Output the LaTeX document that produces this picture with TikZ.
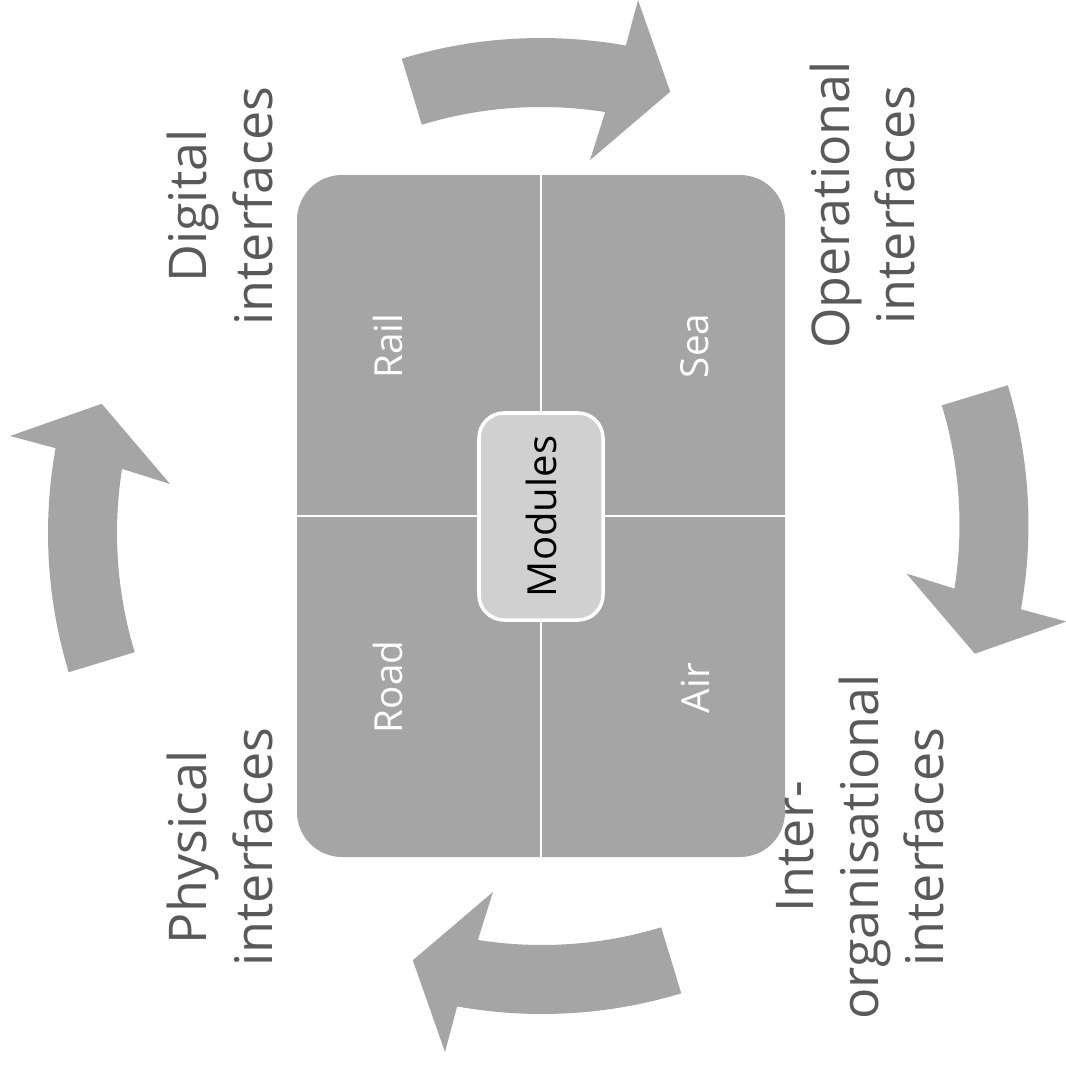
\documentclass[tikz,border=0pt]{standalone}
\usepackage{fontspec}
\setmainfont{Open Sans}
\definecolor{shapegray}{HTML}{A5A5A5}
\definecolor{modfill}{HTML}{D0D0D0}
\definecolor{labelgray}{HTML}{595959}
\tikzset{
  cyc arrow/.pic={
    \fill[shapegray] (106.9:4.10) arc[start angle=106.9,end angle=81.0,radius=4.10]
      -- (82.18:3.603) -- (73.1:4.445) -- (79.37:5.26) -- (79.8:4.79)
      arc[start angle=79.8,end angle=106.9,radius=4.79] -- cycle;
  },
  quadtext/.style={rotate=90, text=white, font=\fontsize{11}{13}\selectfont, inner sep=0pt},
  outerlabel/.style={rotate=90, text=labelgray, align=center, font=\fontsize{14.8}{18.5}\selectfont, inner sep=0pt},
}
\begin{document}
\begin{tikzpicture}
\useasboundingbox (0,0) rectangle (10.65,-10.68);
% cycle arrows
\pic at (5.41,-5.17) {cyc arrow};
\pic[rotate=-90] at (5.495,-5.245) {cyc arrow};
\pic[rotate=180] at (5.42,-5.35) {cyc arrow};
\pic[rotate=90] at (5.27,-5.33) {cyc arrow};
% central board
\node[fill=shapegray, rounded corners=0.45cm, minimum width=4.88cm, minimum height=6.82cm, inner sep=0pt] (board) at (5.41,-5.16) {};
\draw[white, line width=0.8pt] (board.north) -- (board.south);
\draw[white, line width=0.8pt] (board.west) -- (board.east);
\node[fill=modfill, draw=white, line width=1pt, rounded corners=0.25cm, minimum width=2.07cm, minimum height=1.24cm, inner sep=0pt, rotate=90, font=\fontsize{11.4}{13}\selectfont] (modules) at (5.41,-5.165) {Modules};
\node[quadtext] (rail) at (3.88,-3.46) {Rail};
\node[quadtext] (sea) at (6.95,-3.46) {Sea};
\node[quadtext] (road) at (3.88,-6.87) {Road};
\node[quadtext] (air) at (6.95,-6.88) {Air};
% outer labels
\node[outerlabel] (digital) at (2.20,-2.06) {Digital\\interfaces};
\node[outerlabel] (operational) at (8.62,-2.05) {Operational\\interfaces};
\node[outerlabel] (physical) at (2.20,-8.47) {Physical\\interfaces};
\node[outerlabel] (interorg) at (8.60,-8.47) {Inter-\\organisational\\interfaces};
\end{tikzpicture}
\end{document}
